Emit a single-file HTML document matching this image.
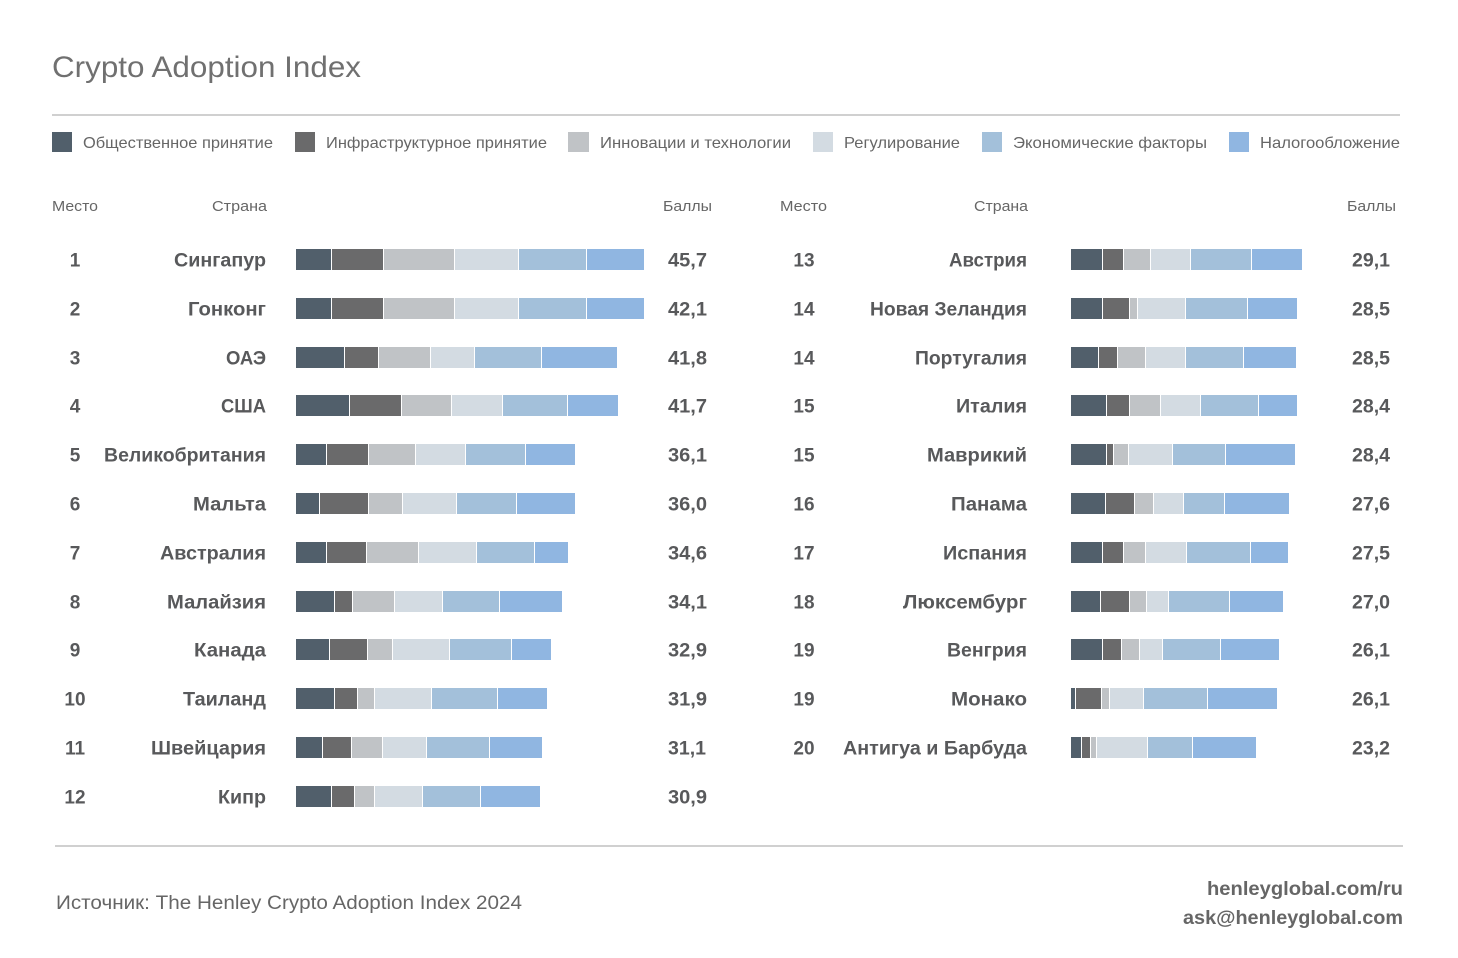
<!DOCTYPE html>
<html><head><meta charset="utf-8"><style>
html,body{margin:0;padding:0;background:#fff;width:1458px;height:958px;overflow:hidden;}
svg{display:block;}
text{font-family:"Liberation Sans",Arial,sans-serif;}
.c1{fill:#515f6b}.c2{fill:#6a6a6b}.c3{fill:#c0c3c6}.c4{fill:#d3dbe2}.c5{fill:#a3c0da}.c6{fill:#90b6e1}
.nm{font-size:19px;font-weight:bold;fill:#58595b;text-anchor:end}
.rk{font-size:19px;font-weight:bold;fill:#58595b;text-anchor:middle}
.sc{font-size:19px;font-weight:bold;fill:#58595b}
.lg{font-size:16px;fill:#666}
.hd{font-size:15px;fill:#666}
</style></head><body>
<svg width="1458" height="958" viewBox="0 0 1458 958" xmlns="http://www.w3.org/2000/svg">
<rect width="1458" height="958" fill="#fff"/>

<text x="52" y="77" font-size="30" fill="#707070" textLength="309" lengthAdjust="spacingAndGlyphs">Crypto Adoption Index</text>
<rect x="52" y="114" width="1348" height="2" fill="#d0d0d0"/>

<rect class="c1" x="52" y="132" width="20" height="20"/>
<text class="lg" x="83" y="148" textLength="190" lengthAdjust="spacingAndGlyphs">Общественное принятие</text>
<rect class="c2" x="295" y="132" width="20" height="20"/>
<text class="lg" x="326" y="148" textLength="221" lengthAdjust="spacingAndGlyphs">Инфраструктурное принятие</text>
<rect class="c3" x="568" y="132" width="21" height="20"/>
<text class="lg" x="600" y="148" textLength="191" lengthAdjust="spacingAndGlyphs">Инновации и технологии</text>
<rect class="c4" x="813" y="132" width="20" height="20"/>
<text class="lg" x="844" y="148" textLength="116" lengthAdjust="spacingAndGlyphs">Регулирование</text>
<rect class="c5" x="982" y="132" width="20" height="20"/>
<text class="lg" x="1013" y="148" textLength="194" lengthAdjust="spacingAndGlyphs">Экономические факторы</text>
<rect class="c6" x="1229" y="132" width="20" height="20"/>
<text class="lg" x="1260" y="148" textLength="140" lengthAdjust="spacingAndGlyphs">Налогообложение</text>

<text class="hd" x="52" y="211" textLength="46" lengthAdjust="spacingAndGlyphs">Место</text>
<text class="hd" x="212" y="211" textLength="55" lengthAdjust="spacingAndGlyphs">Страна</text>
<text class="hd" x="663" y="211" textLength="49" lengthAdjust="spacingAndGlyphs">Баллы</text>
<text class="hd" x="780" y="211" textLength="47" lengthAdjust="spacingAndGlyphs">Место</text>
<text class="hd" x="974" y="211" textLength="54" lengthAdjust="spacingAndGlyphs">Страна</text>
<text class="hd" x="1347" y="211" textLength="49" lengthAdjust="spacingAndGlyphs">Баллы</text>

<!-- LEFT BARS -->
<g>
<rect class="c1" x="296" y="249" width="35" height="21"/><rect class="c2" x="332" y="249" width="51" height="21"/><rect class="c3" x="384" y="249" width="70" height="21"/><rect class="c4" x="455" y="249" width="63" height="21"/><rect class="c5" x="519" y="249" width="67" height="21"/><rect class="c6" x="587" y="249" width="57" height="21"/>
<rect class="c1" x="296" y="298" width="35" height="21"/><rect class="c2" x="332" y="298" width="51" height="21"/><rect class="c3" x="384" y="298" width="70" height="21"/><rect class="c4" x="455" y="298" width="63" height="21"/><rect class="c5" x="519" y="298" width="67" height="21"/><rect class="c6" x="587" y="298" width="57" height="21"/>
<rect class="c1" x="296" y="347" width="48" height="21"/><rect class="c2" x="345" y="347" width="33" height="21"/><rect class="c3" x="379" y="347" width="51" height="21"/><rect class="c4" x="431" y="347" width="43" height="21"/><rect class="c5" x="475" y="347" width="66" height="21"/><rect class="c6" x="542" y="347" width="75" height="21"/>
<rect class="c1" x="296" y="395" width="53" height="21"/><rect class="c2" x="350" y="395" width="51" height="21"/><rect class="c3" x="402" y="395" width="49" height="21"/><rect class="c4" x="452" y="395" width="50" height="21"/><rect class="c5" x="503" y="395" width="64" height="21"/><rect class="c6" x="568" y="395" width="50" height="21"/>
<rect class="c1" x="296" y="444" width="30" height="21"/><rect class="c2" x="327" y="444" width="41" height="21"/><rect class="c3" x="369" y="444" width="46" height="21"/><rect class="c4" x="416" y="444" width="49" height="21"/><rect class="c5" x="466" y="444" width="59" height="21"/><rect class="c6" x="526" y="444" width="49" height="21"/>
<rect class="c1" x="296" y="493" width="23" height="21"/><rect class="c2" x="320" y="493" width="48" height="21"/><rect class="c3" x="369" y="493" width="33" height="21"/><rect class="c4" x="403" y="493" width="53" height="21"/><rect class="c5" x="457" y="493" width="59" height="21"/><rect class="c6" x="517" y="493" width="58" height="21"/>
<rect class="c1" x="296" y="542" width="30" height="21"/><rect class="c2" x="327" y="542" width="39" height="21"/><rect class="c3" x="367" y="542" width="51" height="21"/><rect class="c4" x="419" y="542" width="57" height="21"/><rect class="c5" x="477" y="542" width="57" height="21"/><rect class="c6" x="535" y="542" width="33" height="21"/>
<rect class="c1" x="296" y="591" width="38" height="21"/><rect class="c2" x="335" y="591" width="17" height="21"/><rect class="c3" x="353" y="591" width="41" height="21"/><rect class="c4" x="395" y="591" width="47" height="21"/><rect class="c5" x="443" y="591" width="56" height="21"/><rect class="c6" x="500" y="591" width="62" height="21"/>
<rect class="c1" x="296" y="639" width="33" height="21"/><rect class="c2" x="330" y="639" width="37" height="21"/><rect class="c3" x="368" y="639" width="24" height="21"/><rect class="c4" x="393" y="639" width="56" height="21"/><rect class="c5" x="450" y="639" width="61" height="21"/><rect class="c6" x="512" y="639" width="39" height="21"/>
<rect class="c1" x="296" y="688" width="38" height="21"/><rect class="c2" x="335" y="688" width="22" height="21"/><rect class="c3" x="358" y="688" width="16" height="21"/><rect class="c4" x="375" y="688" width="56" height="21"/><rect class="c5" x="432" y="688" width="65" height="21"/><rect class="c6" x="498" y="688" width="49" height="21"/>
<rect class="c1" x="296" y="737" width="26" height="21"/><rect class="c2" x="323" y="737" width="28" height="21"/><rect class="c3" x="352" y="737" width="30" height="21"/><rect class="c4" x="383" y="737" width="43" height="21"/><rect class="c5" x="427" y="737" width="62" height="21"/><rect class="c6" x="490" y="737" width="52" height="21"/>
<rect class="c1" x="296" y="786" width="35" height="21"/><rect class="c2" x="332" y="786" width="22" height="21"/><rect class="c3" x="355" y="786" width="19" height="21"/><rect class="c4" x="375" y="786" width="47" height="21"/><rect class="c5" x="423" y="786" width="57" height="21"/><rect class="c6" x="481" y="786" width="59" height="21"/>
</g>

<!-- RIGHT BARS -->
<g>
<rect class="c1" x="1071" y="249" width="31" height="21"/><rect class="c2" x="1103" y="249" width="20" height="21"/><rect class="c3" x="1124" y="249" width="26" height="21"/><rect class="c4" x="1151" y="249" width="39" height="21"/><rect class="c5" x="1191" y="249" width="60" height="21"/><rect class="c6" x="1252" y="249" width="50" height="21"/>
<rect class="c1" x="1071" y="298" width="31" height="21"/><rect class="c2" x="1103" y="298" width="26" height="21"/><rect class="c3" x="1130" y="298" width="7" height="21"/><rect class="c4" x="1138" y="298" width="47" height="21"/><rect class="c5" x="1186" y="298" width="61" height="21"/><rect class="c6" x="1248" y="298" width="49" height="21"/>
<rect class="c1" x="1071" y="347" width="27" height="21"/><rect class="c2" x="1099" y="347" width="18" height="21"/><rect class="c3" x="1118" y="347" width="27" height="21"/><rect class="c4" x="1146" y="347" width="39" height="21"/><rect class="c5" x="1186" y="347" width="57" height="21"/><rect class="c6" x="1244" y="347" width="52" height="21"/>
<rect class="c1" x="1071" y="395" width="35" height="21"/><rect class="c2" x="1107" y="395" width="22" height="21"/><rect class="c3" x="1130" y="395" width="30" height="21"/><rect class="c4" x="1161" y="395" width="39" height="21"/><rect class="c5" x="1201" y="395" width="57" height="21"/><rect class="c6" x="1259" y="395" width="38" height="21"/>
<rect class="c1" x="1071" y="444" width="35" height="21"/><rect class="c2" x="1107" y="444" width="6" height="21"/><rect class="c3" x="1114" y="444" width="14" height="21"/><rect class="c4" x="1129" y="444" width="43" height="21"/><rect class="c5" x="1173" y="444" width="52" height="21"/><rect class="c6" x="1226" y="444" width="69" height="21"/>
<rect class="c1" x="1071" y="493" width="34" height="21"/><rect class="c2" x="1106" y="493" width="28" height="21"/><rect class="c3" x="1135" y="493" width="18" height="21"/><rect class="c4" x="1154" y="493" width="29" height="21"/><rect class="c5" x="1184" y="493" width="40" height="21"/><rect class="c6" x="1225" y="493" width="64" height="21"/>
<rect class="c1" x="1071" y="542" width="31" height="21"/><rect class="c2" x="1103" y="542" width="20" height="21"/><rect class="c3" x="1124" y="542" width="21" height="21"/><rect class="c4" x="1146" y="542" width="40" height="21"/><rect class="c5" x="1187" y="542" width="63" height="21"/><rect class="c6" x="1251" y="542" width="37" height="21"/>
<rect class="c1" x="1071" y="591" width="29" height="21"/><rect class="c2" x="1101" y="591" width="28" height="21"/><rect class="c3" x="1130" y="591" width="16" height="21"/><rect class="c4" x="1147" y="591" width="21" height="21"/><rect class="c5" x="1169" y="591" width="60" height="21"/><rect class="c6" x="1230" y="591" width="53" height="21"/>
<rect class="c1" x="1071" y="639" width="31" height="21"/><rect class="c2" x="1103" y="639" width="18" height="21"/><rect class="c3" x="1122" y="639" width="17" height="21"/><rect class="c4" x="1140" y="639" width="22" height="21"/><rect class="c5" x="1163" y="639" width="57" height="21"/><rect class="c6" x="1221" y="639" width="58" height="21"/>
<rect class="c1" x="1071" y="688" width="4" height="21"/><rect class="c2" x="1076" y="688" width="25" height="21"/><rect class="c3" x="1102" y="688" width="7" height="21"/><rect class="c4" x="1110" y="688" width="33" height="21"/><rect class="c5" x="1144" y="688" width="63" height="21"/><rect class="c6" x="1208" y="688" width="69" height="21"/>
<rect class="c1" x="1071" y="737" width="10" height="21"/><rect class="c2" x="1082" y="737" width="8" height="21"/><rect class="c3" x="1091" y="737" width="5" height="21"/><rect class="c4" x="1097" y="737" width="50" height="21"/><rect class="c5" x="1148" y="737" width="44" height="21"/><rect class="c6" x="1193" y="737" width="63" height="21"/>
</g>

<!-- LEFT TEXT -->
<text class="rk" x="75" y="266.5">1</text><text class="nm" x="266" y="266.5" textLength="92" lengthAdjust="spacingAndGlyphs">Сингапур</text><text class="sc" x="668" y="266.5" textLength="39" lengthAdjust="spacingAndGlyphs">45,7</text>
<text class="rk" x="75" y="315.5">2</text><text class="nm" x="266" y="315.5" textLength="78" lengthAdjust="spacingAndGlyphs">Гонконг</text><text class="sc" x="668" y="315.5" textLength="39" lengthAdjust="spacingAndGlyphs">42,1</text>
<text class="rk" x="75" y="364.5">3</text><text class="nm" x="266" y="364.5" textLength="40" lengthAdjust="spacingAndGlyphs">ОАЭ</text><text class="sc" x="668" y="364.5" textLength="39" lengthAdjust="spacingAndGlyphs">41,8</text>
<text class="rk" x="75" y="412.5">4</text><text class="nm" x="266" y="412.5" textLength="45" lengthAdjust="spacingAndGlyphs">США</text><text class="sc" x="668" y="412.5" textLength="39" lengthAdjust="spacingAndGlyphs">41,7</text>
<text class="rk" x="75" y="461.5">5</text><text class="nm" x="266" y="461.5" textLength="162" lengthAdjust="spacingAndGlyphs">Великобритания</text><text class="sc" x="668" y="461.5" textLength="39" lengthAdjust="spacingAndGlyphs">36,1</text>
<text class="rk" x="75" y="510.5">6</text><text class="nm" x="266" y="510.5" textLength="73" lengthAdjust="spacingAndGlyphs">Мальта</text><text class="sc" x="668" y="510.5" textLength="39" lengthAdjust="spacingAndGlyphs">36,0</text>
<text class="rk" x="75" y="559.5">7</text><text class="nm" x="266" y="559.5" textLength="106" lengthAdjust="spacingAndGlyphs">Австралия</text><text class="sc" x="668" y="559.5" textLength="39" lengthAdjust="spacingAndGlyphs">34,6</text>
<text class="rk" x="75" y="608.5">8</text><text class="nm" x="266" y="608.5" textLength="99" lengthAdjust="spacingAndGlyphs">Малайзия</text><text class="sc" x="668" y="608.5" textLength="39" lengthAdjust="spacingAndGlyphs">34,1</text>
<text class="rk" x="75" y="656.5">9</text><text class="nm" x="266" y="656.5" textLength="72" lengthAdjust="spacingAndGlyphs">Канада</text><text class="sc" x="668" y="656.5" textLength="39" lengthAdjust="spacingAndGlyphs">32,9</text>
<text class="rk" x="75" y="705.5">10</text><text class="nm" x="266" y="705.5" textLength="83" lengthAdjust="spacingAndGlyphs">Таиланд</text><text class="sc" x="668" y="705.5" textLength="39" lengthAdjust="spacingAndGlyphs">31,9</text>
<text class="rk" x="75" y="754.5">11</text><text class="nm" x="266" y="754.5" textLength="115" lengthAdjust="spacingAndGlyphs">Швейцария</text><text class="sc" x="668" y="754.5" textLength="38" lengthAdjust="spacingAndGlyphs">31,1</text>
<text class="rk" x="75" y="803.5">12</text><text class="nm" x="266" y="803.5" textLength="48" lengthAdjust="spacingAndGlyphs">Кипр</text><text class="sc" x="668" y="803.5" textLength="39" lengthAdjust="spacingAndGlyphs">30,9</text>

<!-- RIGHT TEXT -->
<text class="rk" x="804" y="266.5">13</text><text class="nm" x="1027" y="266.5" textLength="78" lengthAdjust="spacingAndGlyphs">Австрия</text><text class="sc" x="1352" y="266.5" textLength="38" lengthAdjust="spacingAndGlyphs">29,1</text>
<text class="rk" x="804" y="315.5">14</text><text class="nm" x="1027" y="315.5" textLength="157" lengthAdjust="spacingAndGlyphs">Новая Зеландия</text><text class="sc" x="1352" y="315.5" textLength="38" lengthAdjust="spacingAndGlyphs">28,5</text>
<text class="rk" x="804" y="364.5">14</text><text class="nm" x="1027" y="364.5" textLength="112" lengthAdjust="spacingAndGlyphs">Португалия</text><text class="sc" x="1352" y="364.5" textLength="38" lengthAdjust="spacingAndGlyphs">28,5</text>
<text class="rk" x="804" y="412.5">15</text><text class="nm" x="1027" y="412.5" textLength="71" lengthAdjust="spacingAndGlyphs">Италия</text><text class="sc" x="1352" y="412.5" textLength="38" lengthAdjust="spacingAndGlyphs">28,4</text>
<text class="rk" x="804" y="461.5">15</text><text class="nm" x="1027" y="461.5" textLength="100" lengthAdjust="spacingAndGlyphs">Маврикий</text><text class="sc" x="1352" y="461.5" textLength="38" lengthAdjust="spacingAndGlyphs">28,4</text>
<text class="rk" x="804" y="510.5">16</text><text class="nm" x="1027" y="510.5" textLength="76" lengthAdjust="spacingAndGlyphs">Панама</text><text class="sc" x="1352" y="510.5" textLength="38" lengthAdjust="spacingAndGlyphs">27,6</text>
<text class="rk" x="804" y="559.5">17</text><text class="nm" x="1027" y="559.5" textLength="84" lengthAdjust="spacingAndGlyphs">Испания</text><text class="sc" x="1352" y="559.5" textLength="38" lengthAdjust="spacingAndGlyphs">27,5</text>
<text class="rk" x="804" y="608.5">18</text><text class="nm" x="1027" y="608.5" textLength="124" lengthAdjust="spacingAndGlyphs">Люксембург</text><text class="sc" x="1352" y="608.5" textLength="38" lengthAdjust="spacingAndGlyphs">27,0</text>
<text class="rk" x="804" y="656.5">19</text><text class="nm" x="1027" y="656.5" textLength="80" lengthAdjust="spacingAndGlyphs">Венгрия</text><text class="sc" x="1352" y="656.5" textLength="38" lengthAdjust="spacingAndGlyphs">26,1</text>
<text class="rk" x="804" y="705.5">19</text><text class="nm" x="1027" y="705.5" textLength="76" lengthAdjust="spacingAndGlyphs">Монако</text><text class="sc" x="1352" y="705.5" textLength="38" lengthAdjust="spacingAndGlyphs">26,1</text>
<text class="rk" x="804" y="754.5">20</text><text class="nm" x="1027" y="754.5" textLength="184" lengthAdjust="spacingAndGlyphs">Антигуа и Барбуда</text><text class="sc" x="1352" y="754.5" textLength="38" lengthAdjust="spacingAndGlyphs">23,2</text>

<rect x="55" y="845" width="1348" height="2" fill="#d0d0d0"/>

<text x="56" y="909" font-size="19" fill="#666" textLength="466" lengthAdjust="spacingAndGlyphs">Источник: The Henley Crypto Adoption Index 2024</text>
<text x="1403" y="895" font-size="19" font-weight="bold" fill="#666" text-anchor="end" textLength="196" lengthAdjust="spacingAndGlyphs">henleyglobal.com/ru</text>
<text x="1403" y="924" font-size="19" font-weight="bold" fill="#666" text-anchor="end" textLength="220" lengthAdjust="spacingAndGlyphs">ask@henleyglobal.com</text>
</svg>
</body></html>
